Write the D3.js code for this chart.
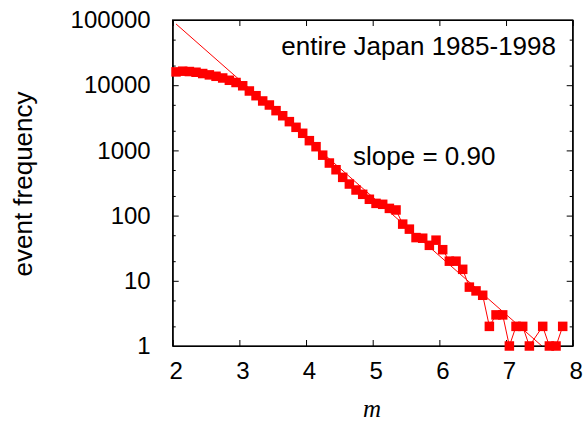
<!DOCTYPE html>
<html>
<head>
<meta charset="utf-8">
<script src="https://cdn.jsdelivr.net/npm/d3@7"></script>
<style>
  body { margin: 0; background: #fff; }
  svg { display: block; font-family: "Liberation Sans", Arial, sans-serif; }
  .axis path, .axis line { stroke: #000; }
  .axis text { font-size: 24px; fill: #000; font-family: "Liberation Sans", Arial, sans-serif; }
</style>
</head>
<body>
<svg id="chart"></svg>
<script>
const WIDTH = 586;
const HEIGHT = 423;

// magnitude bins (bin centres) and number of events per bin
const magnitudes = [
  2.05, 2.15, 2.25, 2.35, 2.45, 2.55, 2.65, 2.75, 2.85, 2.95,
  3.05, 3.15, 3.25, 3.35, 3.45, 3.55, 3.65, 3.75, 3.85, 3.95,
  4.05, 4.15, 4.25, 4.35, 4.45, 4.55, 4.65, 4.75, 4.85, 4.95,
  5.05, 5.15, 5.25, 5.35, 5.45, 5.55, 5.65, 5.75, 5.85, 5.95,
  6.05, 6.15, 6.25, 6.35, 6.45, 6.55, 6.65, 6.75, 6.85, 6.95,
  7.05, 7.15, 7.25, 7.35, 7.55, 7.65, 7.75, 7.85
];
const counts = [
  16000, 16400, 16200, 15800, 15100, 14400, 13700, 12900, 11900, 11000,
  9800, 8150, 6900, 5730, 4970, 4070, 3400, 2760, 2260, 1830,
  1410, 1140, 845, 640, 505, 386, 305, 247, 212, 178,
  154, 149, 129, 122, 74, 62, 46, 45, 35, 42,
  30, 20, 20, 15, 8, 7, 6, 2, 3, 3,
  1, 2, 2, 1, 2, 1, 1, 2
];

// Gutenberg-Richter fit: log10 N = a - b m
const fitSlope = 0.90;
const fitIntercept = 6.784;
const fitRange = [2.05, 7.85];

const xTicks = [2, 3, 4, 5, 6, 7, 8];
const yTicks = [1, 10, 100, 1000, 10000, 100000];
const yMinorTicks = [2, 5, 20, 50, 200, 500, 2000, 5000, 20000, 50000];

const title = 'entire Japan 1985-1998';
const slopeLabel = 'slope = 0.90';

const margin = { top: 20, right: 13.3, bottom: 77, left: 172.7 };
const innerW = WIDTH - margin.left - margin.right;
const innerH = HEIGHT - margin.top - margin.bottom;

const svg = d3.select('#chart')
  .attr('width', WIDTH)
  .attr('height', HEIGHT);

const g = svg.append('g')
  .attr('transform', `translate(${margin.left},${margin.top})`);

const xScale = d3.scaleLinear().domain([2, 8]).range([0, innerW]);
const yScale = d3.scaleLog().domain([1, 100000]).range([innerH, 0]);

const points = magnitudes.map((m, i) => ({ m, n: counts[i] }));

g.append('clipPath').attr('id', 'clip')
  .append('rect').attr('width', innerW).attr('height', innerH);

// fit line
const fitData = fitRange.map(m => ({ m, n: Math.pow(10, fitIntercept - fitSlope * m) }));
g.append('path')
  .datum(fitData)
  .attr('clip-path', 'url(#clip)')
  .attr('fill', 'none')
  .attr('stroke', '#ff0000')
  .attr('stroke-width', 1)
  .attr('d', d3.line().x(d => xScale(d.m)).y(d => yScale(d.n)));

// data line
g.append('path')
  .datum(points)
  .attr('fill', 'none')
  .attr('stroke', '#ff0000')
  .attr('stroke-width', 1)
  .attr('d', d3.line().x(d => xScale(d.m)).y(d => yScale(d.n)));

// axes (ticks inward, mirrored on top and right)
const fmt = d3.format('d');
g.append('g').attr('class', 'axis')
  .attr('transform', `translate(0,${innerH})`)
  .call(d3.axisBottom(xScale).tickValues(xTicks).tickFormat(fmt)
    .tickSizeInner(-6).tickSizeOuter(0).tickPadding(16))
  .call(a => a.selectAll('text').attr('dx', 3));
g.append('g').attr('class', 'axis')
  .call(d3.axisTop(xScale).tickValues(xTicks).tickFormat('')
    .tickSizeInner(-6).tickSizeOuter(0));
g.append('g').attr('class', 'axis')
  .call(d3.axisLeft(yScale).tickValues(yTicks).tickFormat(fmt)
    .tickSizeInner(-6).tickSizeOuter(0).tickPadding(22));
g.append('g').attr('class', 'axis')
  .attr('transform', `translate(${innerW},0)`)
  .call(d3.axisRight(yScale).tickValues(yTicks).tickFormat('')
    .tickSizeInner(-6).tickSizeOuter(0));
g.append('g').attr('class', 'axis')
  .call(d3.axisLeft(yScale).tickValues(yMinorTicks).tickFormat('')
    .tickSizeInner(-3).tickSizeOuter(0))
  .call(a => a.select('.domain').remove());
g.append('g').attr('class', 'axis')
  .attr('transform', `translate(${innerW},0)`)
  .call(d3.axisRight(yScale).tickValues(yMinorTicks).tickFormat('')
    .tickSizeInner(-3).tickSizeOuter(0))
  .call(a => a.select('.domain').remove());

// frame
g.append('rect')
  .attr('width', innerW).attr('height', innerH)
  .attr('fill', 'none').attr('stroke', '#000').attr('stroke-width', 1.3);

// square markers
const S = 9.5;
g.selectAll('rect.pt')
  .data(points)
  .enter()
  .append('rect')
  .attr('class', 'pt')
  .attr('x', d => xScale(d.m) - S / 2)
  .attr('y', d => yScale(d.n) - S / 2)
  .attr('width', S)
  .attr('height', S)
  .attr('fill', '#ff0000');

// labels
svg.append('text')
  .attr('x', 556).attr('y', 55)
  .attr('text-anchor', 'end')
  .style('font-size', '26px')
  .text(title);

svg.append('text')
  .attr('x', 353).attr('y', 165)
  .style('font-size', '26px')
  .text(slopeLabel);

svg.append('text')
  .attr('transform', 'translate(32,184) rotate(-90)')
  .attr('text-anchor', 'middle')
  .style('font-size', '26px')
  .text('event frequency');

svg.append('text')
  .attr('x', 372).attr('y', 417)
  .attr('text-anchor', 'middle')
  .style('font-family', '"Liberation Serif", "Times New Roman", serif')
  .style('font-style', 'italic')
  .style('font-size', '25px')
  .text('m');
</script>
</body>
</html>
